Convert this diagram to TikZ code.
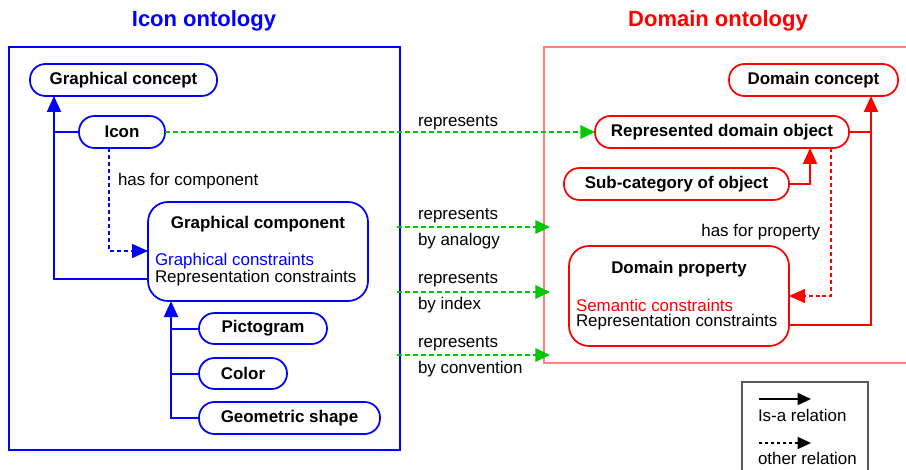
\documentclass[tikz,border=0pt]{standalone}
\usepackage{fontspec}
\setmainfont{Liberation Sans}
\usetikzlibrary{arrows.meta}
\definecolor{grn}{RGB}{0,200,0}
\definecolor{lred}{RGB}{255,130,130}
\definecolor{lgray}{RGB}{90,90,90}
\begin{document}
\begin{tikzpicture}[x=0.75pt,y=-0.75pt,
  every node/.style={font=\fontsize{12.7}{15}\selectfont, inner sep=0pt, outer sep=0pt},
  pill/.style={draw, line width=1.3pt, rounded corners=11.6pt, font=\fontsize{12.7}{15}\selectfont\bfseries, minimum height=24pt},
  bigbox/.style={draw, line width=1.3pt, rounded corners=15pt},
  title/.style={font=\fontsize{16.5}{20}\selectfont\bfseries},
  lbl/.style={anchor=west, yshift=-1.5pt},
  isa/.style={line width=1.5pt, -{Triangle[length=12pt,width=10.5pt]}},
  other/.style={line width=1.2pt, dash pattern=on 3pt off 2.2pt, -{Triangle[length=12pt,width=10.5pt]}},
  rep/.style={grn, line width=1.5pt, dash pattern=on 3.5pt off 2.5pt, -{Triangle[length=11pt,width=10pt]}},
  legarrow/.style={black, line width=1.1pt, -{Triangle[length=10pt,width=9pt]}}
]
\useasboundingbox (0,0) rectangle (906,470);

% titles
\node[title, text=blue] (t1) at (204,21) {Icon ontology};
\node[title, text=red] (t2) at (718,21) {Domain ontology};

% frames
\draw[blue, line width=0.8pt] (9,47) rectangle (400,450);
\draw[lred, line width=0.8pt] (906,47) -- (544,47) -- (544,363) -- (906,363);

% left nodes
\node[pill, blue, minimum width=140.25pt] (gc) at (123.5,80) {\textcolor{black}{Graphical concept}};
\node[pill, blue, minimum width=64.5pt] (icon) at (122,132) {\textcolor{black}{Icon}};
\node[bigbox, blue, minimum width=165pt, minimum height=74.25pt] (comp) at (258,251.5) {};
\node[font=\fontsize{12.7}{15}\selectfont\bfseries] (compt) at (258,224) {Graphical component};
\node[lbl, text=blue] (gcon) at (155,259) {Graphical constraints};
\node[lbl] (rcon1) at (155,276) {Representation constraints};
\node[pill, blue, minimum width=96pt, minimum height=23.25pt] (pict) at (263,328.5) {\textcolor{black}{Pictogram}};
\node[pill, blue, minimum width=66pt, minimum height=23.25pt] (color) at (243,373.5) {\textcolor{black}{Color}};
\node[pill, blue, minimum width=135.75pt] (geom) at (289.5,418) {\textcolor{black}{Geometric shape}};

% right nodes
\node[pill, red, minimum width=126.75pt] (dc) at (813.5,80) {\textcolor{black}{Domain concept}};
\node[pill, red, minimum width=190.5pt] (rdo) at (722,132) {\textcolor{black}{Represented domain object}};
\node[pill, red, minimum width=168.75pt] (sub) at (676.5,184) {\textcolor{black}{Sub-category of object}};
\node[bigbox, red, minimum width=165pt, minimum height=75pt] (dp) at (679,296) {};
\node[font=\fontsize{12.7}{15}\selectfont\bfseries] (dpt) at (679,269) {Domain property};
\node[lbl, text=red] (scon) at (576,303) {Semantic constraints};
\node[lbl] (rcon2) at (576,320) {Representation constraints};

% left is-a
\coordinate (jL) at (54,279);
\draw[isa, blue] (comp.west |- jL) -- (jL) -- (jL |- gc.south);
\draw[blue, line width=1.5pt] (icon.west) -- (icon.west -| jL);
\coordinate (jC) at (171,418);
\draw[isa, blue] (geom.west) -- (jC) -- (jC |- comp.south);
\draw[blue, line width=1.5pt] (pict.west) -- (pict.west -| jC);
\draw[blue, line width=1.5pt] (color.west) -- (color.west -| jC);
% has for component
\coordinate (hc) at (109,251);
\draw[other, blue] (icon.south -| hc) -- (hc) -- (hc -| comp.west);
\node[lbl] (hcl) at (118,179) {has for component};

% right is-a
\coordinate (jR) at (871,325);
\draw[isa, red] (dp.east |- jR) -- (jR) -- (jR |- dc.south);
\draw[red, line width=1.5pt] (rdo.east) -- (rdo.east -| jR);
\coordinate (jS) at (810,184);
\draw[isa, red] (sub.east) -- (jS) -- (jS |- rdo.south);
% has for property
\coordinate (hp) at (831,296);
\draw[other, red] (rdo.south -| hp) -- (hp) -- (hp -| dp.east);
\node[anchor=east, yshift=-1.5pt] (hpl) at (820,230) {has for property};

% represents arrows
\draw[rep] (icon.east) -- (rdo.west);
\node[lbl] (r0) at (418,121) {represents};
\coordinate (a1s) at (397,227); \coordinate (a1e) at (550,227);
\coordinate (a2s) at (397,292); \coordinate (a2e) at (550,292);
\coordinate (a3s) at (397,355); \coordinate (a3e) at (550,355);
\draw[rep] (a1s) -- (a1e);
\draw[rep] (a2s) -- (a2e);
\draw[rep] (a3s) -- (a3e);
\node[lbl] (r1a) at (418,214) {represents};
\node[lbl] (r1b) at (418,239) {by analogy};
\node[lbl] (r2a) at (418,278) {represents};
\node[lbl] (r2b) at (418,303) {by index};
\node[lbl] (r3a) at (418,342) {represents};
\node[lbl] (r3b) at (418,367) {by convention};

% legend
\draw[lgray, line width=0.8pt] (742,470) -- (742,382) -- (868,382) -- (868,470);
\coordinate (l1s) at (759,399); \coordinate (l1e) at (811,399);
\coordinate (l2s) at (759,443); \coordinate (l2e) at (811,443);
\draw[legarrow] (l1s) -- (l1e);
\draw[legarrow, line width=0.9pt, dash pattern=on 2.5pt off 2pt] (l2s) -- (l2e);
\node[lbl] (lt1) at (758,413) {Is-a relation};
\node[lbl] (lt2) at (758,456) {other relation};
\end{tikzpicture}
\end{document}
